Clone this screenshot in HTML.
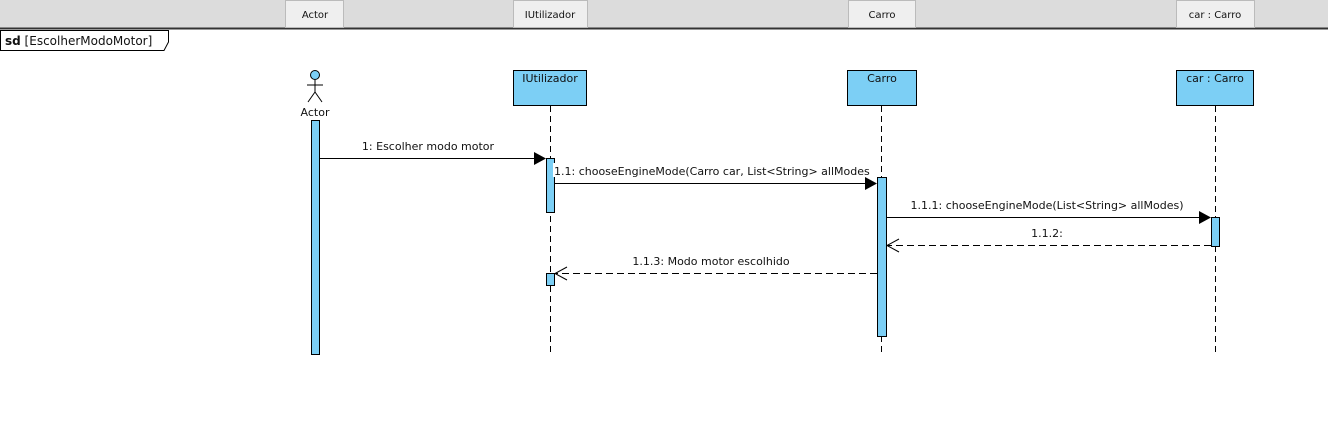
<!DOCTYPE html>
<html><head><meta charset="utf-8"><style>
body{margin:0;width:1328px;height:417px;background:#fff;overflow:hidden}
svg text{font-family:"DejaVu Sans","Liberation Sans",sans-serif;font-size:11px;fill:#111}
</style></head><body>
<svg width="1328" height="417" xmlns="http://www.w3.org/2000/svg">
<rect x="0" y="0" width="1328" height="28" fill="#dcdcdc"/>
<line x1="0" y1="28.5" x2="1328" y2="28.5" stroke="#333" stroke-width="2"/>
<g fill="#efefef" stroke="#bbb">
<rect x="285.5" y="0.5" width="58" height="27"/>
<rect x="513.5" y="0.5" width="74" height="27"/>
<rect x="848.5" y="0.5" width="67" height="27"/>
<rect x="1176.5" y="0.5" width="78" height="27"/>
</g>
<g font-size="10" text-anchor="middle">
<text x="315" y="18" style="font-size:10px">Actor</text>
<text x="550" y="18" style="font-size:10px">IUtilizador</text>
<text x="882" y="18" style="font-size:10px">Carro</text>
<text x="1215" y="18" style="font-size:10px">car : Carro</text>
</g>
<path d="M0.5 30.5 H168.5 V42 L164 50.5 H0.5 Z" fill="#fff" stroke="#000"/>
<text x="5" y="45" style="font-size:12px"><tspan font-weight="bold">sd</tspan> [EscolherModoMotor]</text>
<!-- actor -->
<circle cx="315" cy="75" r="4.5" fill="#7ccff5" stroke="#000"/>
<g stroke="#000" fill="none"><line x1="315" y1="80" x2="315" y2="92"/><line x1="307" y1="85" x2="323" y2="85"/><line x1="315" y1="92" x2="308" y2="102"/><line x1="315" y1="92" x2="322" y2="102"/></g>
<text x="315" y="116" text-anchor="middle">Actor</text>
<g fill="#7ccff5" stroke="#000">
<rect x="513.5" y="70.5" width="73" height="35"/>
<rect x="847.5" y="70.5" width="69" height="35"/>
<rect x="1176.5" y="70.5" width="77" height="35"/>
</g>
<text x="550" y="82" text-anchor="middle">IUtilizador</text>
<text x="882" y="82" text-anchor="middle">Carro</text>
<text x="1215" y="82" text-anchor="middle">car : Carro</text>
<g stroke="#000" stroke-dasharray="6,4">
<line x1="550.5" y1="106" x2="550.5" y2="355"/>
<line x1="881.5" y1="106" x2="881.5" y2="355"/>
<line x1="1215.5" y1="106" x2="1215.5" y2="355"/>
</g>
<g fill="#7ccff5" stroke="#000">
<rect x="311.5" y="120.5" width="8" height="234"/>
<rect x="546.5" y="158.5" width="8" height="54"/>
<rect x="546.5" y="273.5" width="8" height="12"/>
<rect x="877.5" y="177.5" width="9" height="159"/>
<rect x="1211.5" y="217.5" width="8" height="29"/>
</g>
<g stroke="#000">
<line x1="320" y1="158.5" x2="536" y2="158.5"/>
<line x1="555" y1="183.5" x2="867" y2="183.5"/>
<line x1="887" y1="217.5" x2="1201" y2="217.5"/>
<line x1="1211" y1="245.5" x2="887" y2="245.5" stroke-dasharray="7,4"/>
<line x1="877" y1="273.5" x2="555" y2="273.5" stroke-dasharray="7,4"/>
</g>
<polygon points="534,152 546,158.5 534,165" fill="#000"/>
<polygon points="865,177 877,183.5 865,190" fill="#000"/>
<polygon points="1199,211 1211,217.5 1199,224" fill="#000"/>
<polyline points="899,239 887,245.5 899,252" fill="none" stroke="#000"/>
<polyline points="567,267 555,273.5 567,280" fill="none" stroke="#000"/>
<text x="428" y="150" text-anchor="middle">1: Escolher modo motor</text>
<rect x="553" y="163" width="318" height="14" fill="#fff"/>
<text x="554" y="175">1.1: chooseEngineMode(Carro car, List&lt;String&gt; allModes</text>
<text x="1047" y="209" text-anchor="middle">1.1.1: chooseEngineMode(List&lt;String&gt; allModes)</text>
<text x="1047" y="237" text-anchor="middle">1.1.2:</text>
<text x="711" y="265" text-anchor="middle">1.1.3: Modo motor escolhido</text>
</svg>
</body></html>
